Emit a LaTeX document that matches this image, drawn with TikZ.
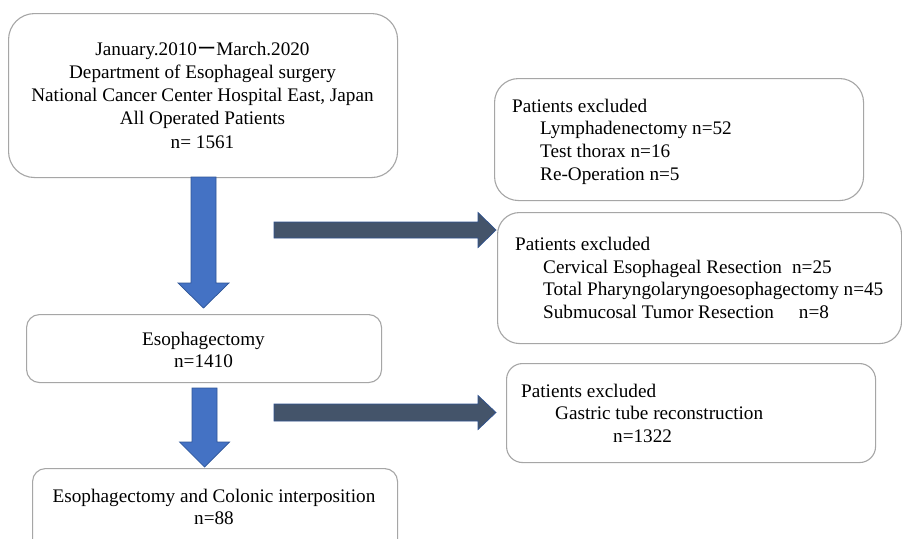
\documentclass[tikz,border=0pt]{standalone}
\usepackage{fontspec}
\setmainfont{Liberation Serif}
\newfontfamily\jpfont{Noto Sans CJK JP}
\usetikzlibrary{calc}
\definecolor{bordergray}{HTML}{A6A6A6}
\definecolor{arrblue}{HTML}{4472C4}
\definecolor{arrblueedge}{HTML}{2F5597}
\definecolor{arrslate}{HTML}{44546A}
\definecolor{arrslateedge}{HTML}{2F528F}
\begin{document}
\begin{tikzpicture}[x=1pt,y=-1pt,
  box/.style={draw=bordergray, line width=1.1pt, rounded corners=#1, fill=white, inner sep=0pt, anchor=north west},
  txt/.style={font=\fontsize{19.2}{23.3}\selectfont, inner sep=0pt, text=black},
  lt/.style={txt, anchor=base west},
  ct/.style={txt, anchor=base},
  downblock/.style={fill=arrblue, draw=arrblueedge, line width=0.7pt, line join=miter},
  rightblock/.style={fill=arrslate, draw=arrslateedge, line width=0.7pt, line join=miter}]
\useasboundingbox (0,0) rectangle (902,538);
\clip (0,0) rectangle (902,538);
\fill[white] (0,0) rectangle (902,538);

% boxes
\node[box=26pt, minimum width=389pt, minimum height=164pt] (A) at (8,13) {};
\node[box=24pt, minimum width=369pt, minimum height=122pt] (B) at (494,78) {};
\node[box=22pt, minimum width=404pt, minimum height=131pt] (C) at (497,212) {};
\node[box=13pt, minimum width=355pt, minimum height=68pt] (D) at (26,314) {};
\node[box=16pt, minimum width=369pt, minimum height=99pt] (E) at (506,363) {};
\node[box=13pt, minimum width=365pt, minimum height=100pt] (F) at (32,468) {};

% box A text
\node[ct] (A1) at (202.5,55) {January.2010{\jpfont ー}March.2020};
\node[ct] (A2) at (202.5,78.3) {Department of Esophageal surgery};
\node[ct] (A3) at (202.5,101.6) {National Cancer Center Hospital East, Japan};
\node[ct] (A4) at (202.5,124.9) {All Operated Patients};
\node[ct] (A5) at (202.5,148.2) {n= 1561};

% box B text
\node[lt] (B1) at (512,112) {Patients excluded};
\node[lt] (B2) at (540,134.5) {Lymphadenectomy n=52};
\node[lt] (B3) at (540,157.5) {Test thorax n=16};
\node[lt] (B4) at (540,180.5) {Re-Operation n=5};

% box C text
\node[lt] (C1) at (515,250) {Patients excluded};
\node[lt] (C2) at (543,273) {Cervical Esophageal Resection\hspace*{10pt}n=25};
\node[lt] (C3) at (543,295.5) {Total Pharyngolaryngoesophagectomy n=45};
\node[lt] (C4) at (543,318) {Submucosal Tumor Resection\hspace*{25pt}n=8};

% box D text
\node[ct] (D1) at (203.5,345) {Esophagectomy};
\node[ct] (D2) at (203.5,367) {n=1410};

% box E text
\node[lt] (E1) at (521,397) {Patients excluded};
\node[lt] (E2) at (555,419.5) {Gastric tube reconstruction};
\node[lt] (E3) at (613,442.5) {n=1322};

% box F text
\node[ct] (F1) at (214,502) {Esophagectomy and Colonic interposition};
\node[ct] (F2) at (214,524) {n=88};

% block arrows (down)
\coordinate (d1top) at (203.5,177);
\coordinate (d1tip) at (203.5,308);
\draw[downblock] ($(d1top)+(-12.5,0)$) -- ($(d1top)+(12.5,0)$) -- ($(d1tip)+(12.5,-25)$) -- ($(d1tip)+(25.5,-25)$) -- (d1tip) -- ($(d1tip)+(-25.5,-25)$) -- ($(d1tip)+(-12.5,-25)$) -- cycle;
\coordinate (d2top) at (204.5,388);
\coordinate (d2tip) at (204.5,467);
\draw[downblock] ($(d2top)+(-12.5,0)$) -- ($(d2top)+(12.5,0)$) -- ($(d2tip)+(12.5,-25)$) -- ($(d2tip)+(25,-25)$) -- (d2tip) -- ($(d2tip)+(-25,-25)$) -- ($(d2tip)+(-12.5,-25)$) -- cycle;

% block arrows (right)
\coordinate (r1tail) at (274,230);
\coordinate (r1tip) at (496,230);
\draw[rightblock] ($(r1tail)+(0,-8)$) -- ($(r1tip)+(-18,-8)$) -- ($(r1tip)+(-18,-17.5)$) -- (r1tip) -- ($(r1tip)+(-18,17.5)$) -- ($(r1tip)+(-18,8)$) -- ($(r1tail)+(0,8)$) -- cycle;
\coordinate (r2tail) at (274,412.5);
\coordinate (r2tip) at (496,412.5);
\draw[rightblock] ($(r2tail)+(0,-8.5)$) -- ($(r2tip)+(-18,-8.5)$) -- ($(r2tip)+(-18,-17)$) -- (r2tip) -- ($(r2tip)+(-18,17)$) -- ($(r2tip)+(-18,8.5)$) -- ($(r2tail)+(0,8.5)$) -- cycle;
\end{tikzpicture}
\end{document}
